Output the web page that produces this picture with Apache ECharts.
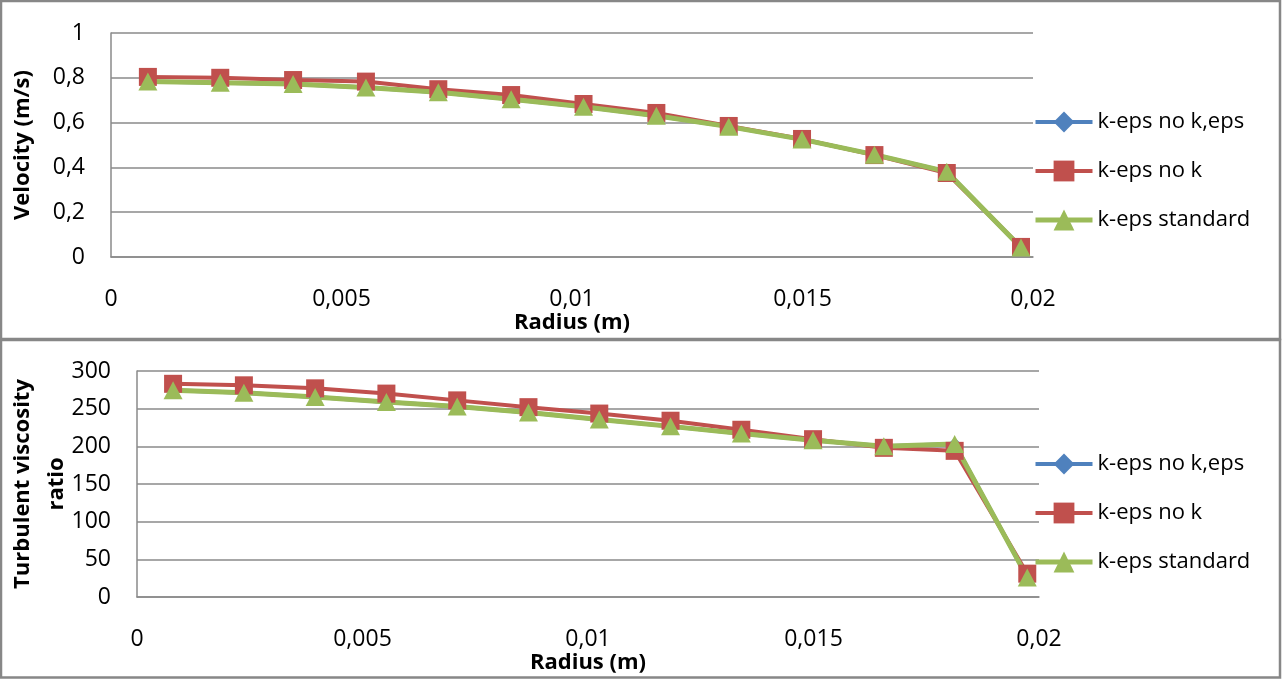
<!DOCTYPE html>
<html>
<head>
<meta charset="utf-8">
<script src="https://cdn.jsdelivr.net/npm/echarts@6/dist/echarts.min.js"></script>
<style>
html,body{margin:0;padding:0;background:#fff;}
#c{width:1282px;height:679px;}
</style>
</head>
<body>
<div id="c"></div>
<script>
// Data
const seriesNames = ['k-eps no k,eps', 'k-eps no k', 'k-eps standard'];
const radius = [0.0008, 0.00237, 0.00395, 0.00553, 0.0071, 0.00868, 0.01025, 0.01183, 0.0134, 0.01499, 0.01656, 0.01813, 0.01974];
// Velocity (m/s)
const velNoKEps = [0.783, 0.778, 0.772, 0.757, 0.735, 0.704, 0.671, 0.631, 0.582, 0.525, 0.457, 0.381, 0.042];
const velNoK = [0.804, 0.800, 0.790, 0.783, 0.749, 0.723, 0.683, 0.643, 0.585, 0.527, 0.455, 0.375, 0.045];
const velStandard = [0.783, 0.778, 0.772, 0.757, 0.735, 0.704, 0.671, 0.631, 0.582, 0.525, 0.457, 0.381, 0.042];
// Turbulent viscosity ratio
const tvrNoKEps = [274.5, 271, 265.5, 259, 253, 245, 235.5, 226.5, 217, 208, 200, 203, 26];
const tvrNoK = [283, 281, 277, 270, 261, 252, 243.5, 234, 222, 209.5, 198, 194, 31];
const tvrStandard = [274.5, 271, 265.5, 259, 253, 245, 235.5, 226.5, 217, 208, 200, 203, 26];
const xTicks = ['0', '0,005', '0,01', '0,015', '0,02'];

const FONT = 'Open Sans';
const GRID_COLOR = '#8a8a8a';
const colors = ['#4F81BD', '#C0504D', '#9BBB59'];
const symbols = ['diamond', 'rect', 'triangle'];
const symbolSizes = [13, 18, [19, 18]];
const lineWidths = [4, 4, 5];

function pairs(ys) { return radius.map((x, i) => [x, ys[i]]); }
function comma(v) { return String(+v.toFixed(6)).replace('.', ','); }

function xAxis(gridIndex) {
  return {
    type: 'value', gridIndex, min: 0, max: 0.02, interval: 0.005,
    name: 'Radius (m)', nameLocation: 'middle', nameGap: 55, nameMoveOverlap: false,
    nameTextStyle: { fontFamily: FONT, fontSize: 22, fontWeight: 'bold', color: '#000', verticalAlign: 'top' },
    axisLine: { show: true, lineStyle: { color: GRID_COLOR, width: 1.5 } },
    axisTick: { show: false },
    splitLine: { show: false },
    axisLabel: {
      margin: 31, fontFamily: FONT, fontSize: 23, color: '#000',
      formatter: v => xTicks[Math.round(v / 0.005)]
    }
  };
}
function yAxis(gridIndex, max, interval, name, nameGap) {
  return {
    type: 'value', gridIndex, min: 0, max, interval,
    name, nameLocation: 'middle', nameGap, nameMoveOverlap: false,
    nameTextStyle: { fontFamily: FONT, fontSize: 22, fontWeight: 'bold', color: '#000', lineHeight: 34, verticalAlign: 'middle' },
    axisLine: { show: true, lineStyle: { color: GRID_COLOR, width: 1.5 } },
    axisTick: { show: false },
    splitLine: { show: true, lineStyle: { color: GRID_COLOR, width: 1.5 } },
    axisLabel: { margin: 26, fontFamily: FONT, fontSize: 23, color: '#000', formatter: comma }
  };
}
function mk(i, data, axisIdx) {
  return {
    name: seriesNames[i], type: 'line', xAxisIndex: axisIdx, yAxisIndex: axisIdx,
    data: pairs(data), symbol: symbols[i], symbolSize: symbolSizes[i],
    showAllSymbol: true,
    lineStyle: { color: colors[i], width: lineWidths[i] },
    itemStyle: { color: colors[i] },
    emphasis: { disabled: true }, animation: false, clip: false
  };
}
function legend(top) {
  return {
    orient: 'vertical', left: 1033, top, padding: 0, itemWidth: 57, itemHeight: 26, itemGap: 27,
    data: seriesNames.map((n, i) => ({ name: n, lineStyle: { width: lineWidths[i] } })),
    textStyle: { fontFamily: FONT, fontSize: 22, color: '#000', lineHeight: 22 }
  };
}

const chart = echarts.init(document.getElementById('c'), null, { renderer: 'canvas' });
chart.setOption({
  animation: false,
  backgroundColor: '#fff',
  graphic: [
    { type: 'rect', shape: { x: 1, y: 1, width: 1279, height: 338 }, style: { fill: 'none', stroke: '#878787', lineWidth: 2.5 }, z: 100 },
    { type: 'rect', shape: { x: 1, y: 340, width: 1279, height: 337.5 }, style: { fill: 'none', stroke: '#878787', lineWidth: 2.5 }, z: 100 }
  ],
  grid: [
    { left: 111, right: 249, top: 33, bottom: 422, outerBoundsMode: 'none', containLabel: false },
    { left: 137, right: 243, top: 371, bottom: 82, outerBoundsMode: 'none', containLabel: false }
  ],
  xAxis: [xAxis(0), xAxis(1)],
  yAxis: [
    yAxis(0, 1, 0.2, 'Velocity (m/s)', 88),
    yAxis(1, 300, 50, 'Turbulent viscosity\nratio', 97)
  ],
  legend: [legend(111), legend(453)],
  series: [
    mk(0, velNoKEps, 0), mk(1, velNoK, 0), mk(2, velStandard, 0),
    mk(0, tvrNoKEps, 1), mk(1, tvrNoK, 1), mk(2, tvrStandard, 1)
  ]
});
</script>
</body>
</html>
